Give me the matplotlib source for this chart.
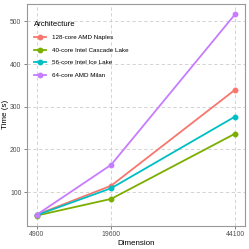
import matplotlib
matplotlib.use("Agg")
import matplotlib.pyplot as plt

plt.rcParams["font.family"] = ["Liberation Sans", "DejaVu Sans"]

dims = [4900, 19600, 44100]
naples = [47, 115, 340]
cascade = [45, 84, 237]
icelake = [46, 109, 277]
milan = [47, 164, 517]

labels = ["128-core AMD Naples", "40-core Intel Cascade Lake",
          "56-core Intel Ice Lake", "64-core AMD Milan"]
colors = ["#F8766D", "#7CAE00", "#00BFC4", "#C77CFF"]

fig = plt.figure(figsize=(2.49, 2.49), dpi=100)
ax = fig.add_axes([0.108, 0.094, 0.876, 0.89])

for ys, lab, c in zip([naples, cascade, icelake, milan], labels, colors):
    ax.plot(dims, ys, "-o", color=c, lw=1.3, ms=3.2, label=lab)

ax.set_xlim(2940, 46060)
ax.set_ylim(21.4, 541)
ax.set_xticks(dims)
ax.set_yticks([100, 200, 300, 400, 500])
ax.grid(True, color="#cccccc", ls=(0, (4, 3)), lw=0.6)
ax.set_axisbelow(True)
for s in ax.spines.values():
    s.set_color("#999999")
    s.set_linewidth(0.8)
ax.tick_params(labelsize=4.9, colors="#4d4d4d", length=2.5, width=0.5, pad=1.5)
ax.set_xlabel("Dimension", fontsize=5.8, labelpad=1.5)
ax.set_ylabel("Time (s)", fontsize=5.8, labelpad=1)

leg = ax.legend(title="Architecture", loc="upper left", bbox_to_anchor=(0.005, 0.95),
                fontsize=4.5, title_fontsize=5.6, frameon=False, handlelength=2.0,
                handletextpad=0.9, labelspacing=1.15, alignment="left")

fig.savefig("out.png", dpi=100)
